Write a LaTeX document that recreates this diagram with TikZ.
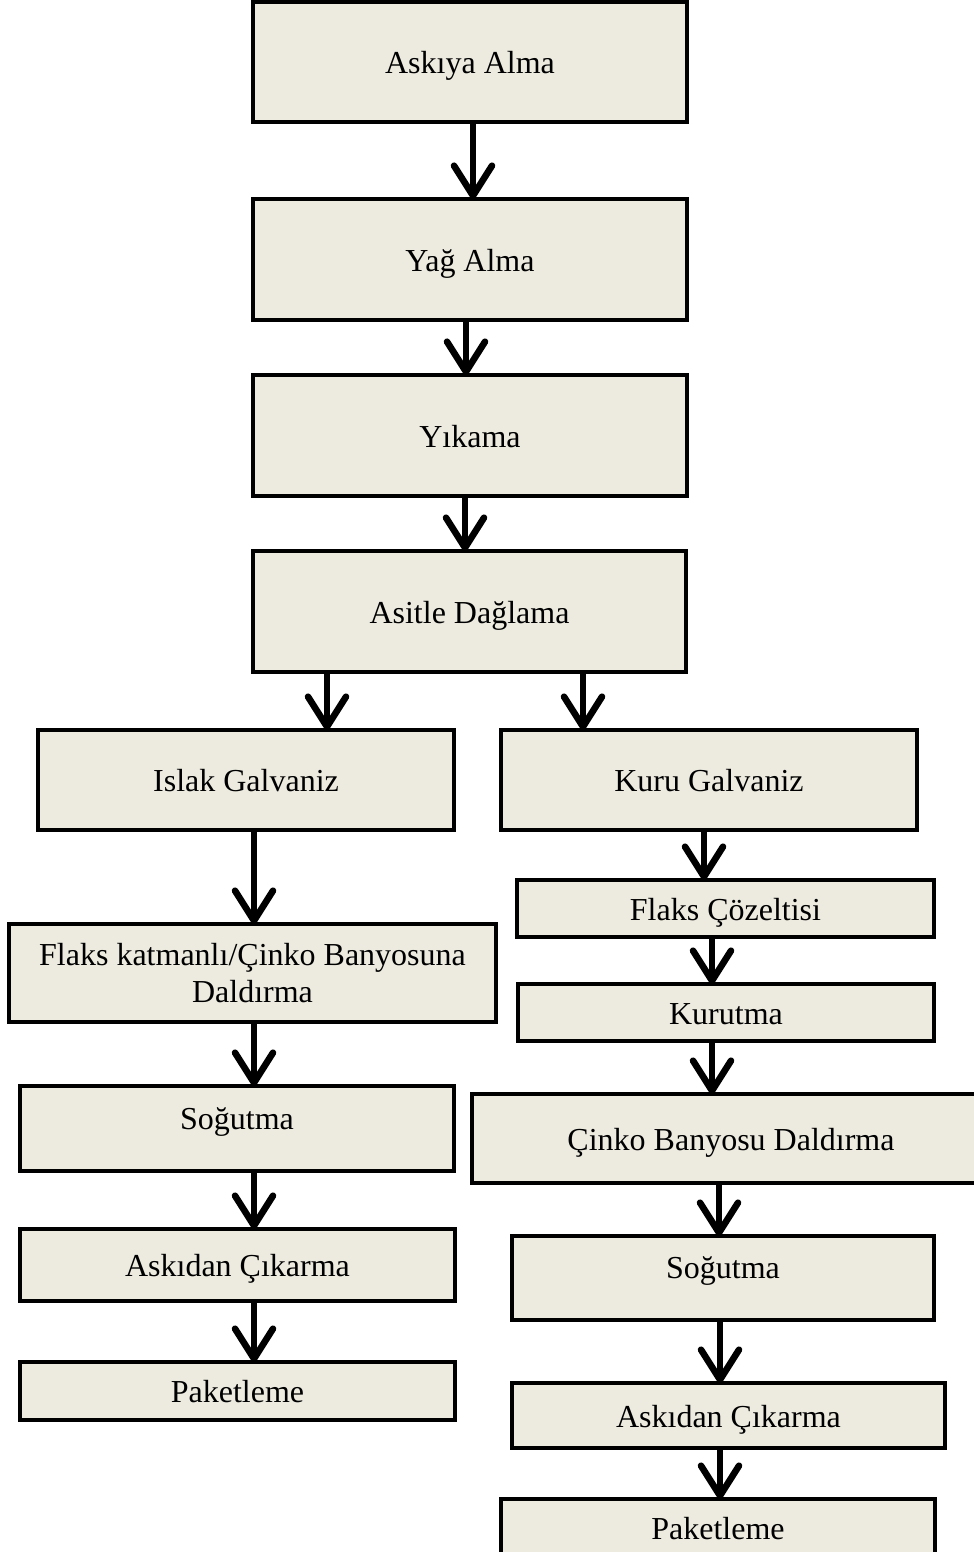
\documentclass[tikz,border=0pt]{standalone}
\usepackage{fontspec}
\setmainfont{Liberation Serif}
\usetikzlibrary{arrows.meta}
\definecolor{boxfill}{HTML}{EDEBE0}
\tikzset{
  bx/.style={draw=black, fill=boxfill, line width=2.3pt, rectangle, inner sep=0pt, outer sep=0pt,
    align=center, font=\fontsize{16}{18.5}\selectfont, text height=15pt, text depth=3.5pt},
  arr/.style={line width=3.3pt, -{Straight Barb[length=15pt,width=19pt,line cap=round,line join=round]}},
  upper/.style={text depth=14.5pt},
  multi/.style={text height={}, text depth={}, yshift=-1pt}
}
\newcommand{\stepnode}[7][]{\node[bx,#1, minimum width={(#5-#3)*0.5pt}, minimum height={(#6-#4)*0.5pt}] (#2) at ({(#3+#5)/2},{(#4+#6)/2}) {#7};}
\begin{document}
\begin{tikzpicture}[x=0.5pt,y=-0.5pt]
\path[use as bounding box, clip] (0,0) rectangle (974,1552);
\fill[white] (0,0) rectangle (974,1552);
\stepnode{a}{253}{2}{687}{122}{Askıya Alma}
\stepnode{b}{253}{199}{687}{320}{Yağ Alma}
\stepnode{c}{253}{375}{687}{496}{Yıkama}
\stepnode{d}{253}{551}{686}{672}{Asitle Dağlama}
\stepnode{e}{38}{730}{454}{830}{Islak Galvaniz}
\stepnode{f}{501}{730}{917}{830}{Kuru Galvaniz}
\stepnode[multi]{g}{9}{922}{496}{1020}{Flaks katmanlı/Çinko Banyosuna\\Daldırma}
\stepnode[upper]{h}{20}{1086}{454}{1171}{Soğutma}
\stepnode{i}{20}{1229}{455}{1301}{Askıdan Çıkarma}
\stepnode{j}{20}{1362}{455}{1420}{Paketleme}
\stepnode{k}{517}{880}{934}{937}{Flaks Çözeltisi}
\stepnode{l}{518}{984}{934}{1041}{Kurutma}
\stepnode{m}{472}{1094}{990}{1183}{Çinko Banyosu Daldırma}
\stepnode[upper]{n}{512}{1236}{934}{1320}{Soğutma}
\stepnode{o}{512}{1383}{945}{1448}{Askıdan Çıkarma}
\stepnode{p}{501}{1499}{935}{1556}{Paketleme}
\draw[arr] (473,0 |- a.south) -- (473,0 |- b.north);
\draw[arr] (466,0 |- b.south) -- (466,0 |- c.north);
\draw[arr] (465,0 |- c.south) -- (465,0 |- d.north);
\draw[arr] (327,0 |- d.south) -- (327,0 |- e.north);
\draw[arr] (583,0 |- d.south) -- (583,0 |- f.north);
\draw[arr] (254,0 |- e.south) -- (254,0 |- g.north);
\draw[arr] (254,0 |- g.south) -- (254,0 |- h.north);
\draw[arr] (254,0 |- h.south) -- (254,0 |- i.north);
\draw[arr] (254,0 |- i.south) -- (254,0 |- j.north);
\draw[arr] (704,0 |- f.south) -- (704,0 |- k.north);
\draw[arr] (712,0 |- k.south) -- (712,0 |- l.north);
\draw[arr] (712,0 |- l.south) -- (712,0 |- m.north);
\draw[arr] (719,0 |- m.south) -- (719,0 |- n.north);
\draw[arr] (720,0 |- n.south) -- (720,0 |- o.north);
\draw[arr] (720,0 |- o.south) -- (720,0 |- p.north);
\end{tikzpicture}
\end{document}
